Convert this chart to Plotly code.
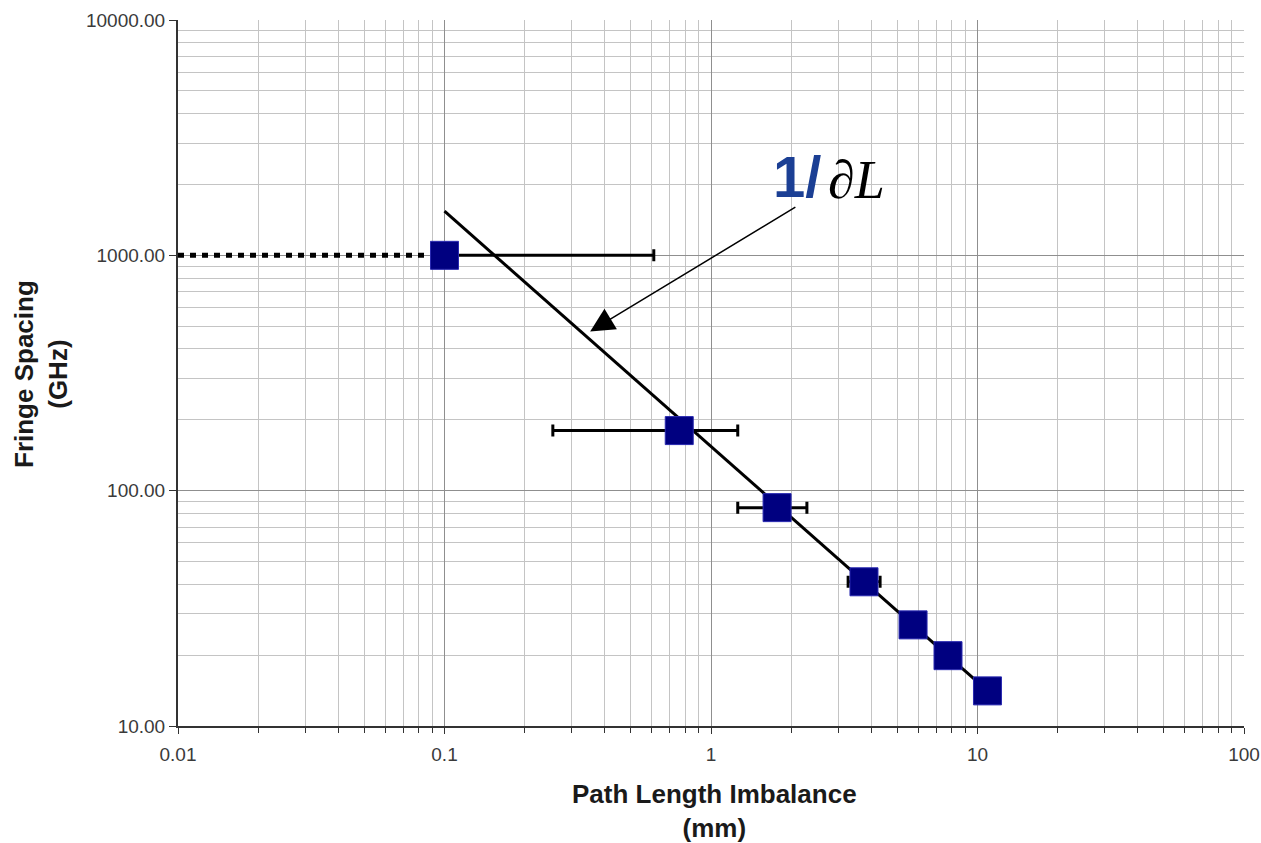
import math
import plotly.graph_objects as go

# ---- data ----
path_mm = [0.1, 0.76, 1.77, 3.75, 5.73, 7.75, 10.9]
fringe_ghz = [1000, 180, 84.7, 41, 26.9, 19.9, 14.1]
err_plus = [0.51, 0.50, 0.52, 0.56, 0, 0, 0]
err_minus = [0.0, 0.505, 0.51, 0.48, 0, 0, 0]

dotted_x = [0.01, 0.1]
dotted_y = [1000, 1000]

fit_x = [0.1, 11.0]
fit_y = [1540, 14.0]

x_tick_vals = [0.01, 0.1, 1, 10, 100]
x_tick_text = ["0.01", "0.1", "1", "10", "100"]
y_tick_vals = [10, 100, 1000, 10000]
y_tick_text = ["10.00", "100.00", "1000.00", "10000.00"]

arrow_tip = (0.352, 475)
arrow_tail = (2.10, 1617)

fig = go.Figure()

fig.add_trace(go.Scatter(x=dotted_x, y=dotted_y, mode="lines",
                         line=dict(color="black", width=5, dash="6px,6px"),
                         hoverinfo="skip", showlegend=False))
fig.add_trace(go.Scatter(x=fit_x, y=fit_y, mode="lines",
                         line=dict(color="black", width=3),
                         showlegend=False))
fig.add_trace(go.Scatter(
    x=path_mm, y=fringe_ghz, mode="markers",
    marker=dict(symbol="square", size=28, color="#000080",
                line=dict(color="#2a2ab0", width=1)),
    error_x=dict(type="data", symmetric=False, array=err_plus,
                 arrayminus=err_minus, color="black", thickness=3, width=6),
    showlegend=False))

minor_x = [m * 10 ** e for e in range(-2, 2) for m in range(2, 10)]
minor_y = [m * 10 ** e for e in range(1, 4) for m in range(2, 10)]

axis_font = dict(family="Liberation Sans, Arial", size=19, color="#3a3a3a")

fig.update_xaxes(type="log", range=[-2, 2], tickmode="array",
                 tickvals=x_tick_vals, ticktext=x_tick_text,
                 showgrid=True, gridcolor="#8f8f8f", gridwidth=1,
                 ticks="outside", ticklen=6, tickcolor="#333",
                 showline=True, linecolor="#333", linewidth=2,
                 zeroline=False, tickfont=axis_font, automargin=False,
                 ticklabelstandoff=4,
                 minor=dict(tickmode="array", tickvals=minor_x, showgrid=True,
                            gridcolor="#c4c4c4", gridwidth=1,
                            ticks="outside", ticklen=5, tickcolor="#333"))
fig.update_yaxes(type="log", range=[1, 4], tickmode="array",
                 tickvals=y_tick_vals, ticktext=y_tick_text,
                 showgrid=True, gridcolor="#8f8f8f", gridwidth=1,
                 ticks="outside", ticklen=7, tickcolor="#333",
                 showline=True, linecolor="#333", linewidth=2,
                 zeroline=False, tickfont=axis_font, automargin=False,
                 minor=dict(tickmode="array", tickvals=minor_y, showgrid=True,
                            gridcolor="#c4c4c4", gridwidth=1))

fig.add_annotation(x=math.log10(arrow_tip[0]), y=math.log10(arrow_tip[1]),
                   ax=math.log10(arrow_tail[0]), ay=math.log10(arrow_tail[1]),
                   xref="x", yref="y", axref="x", ayref="y",
                   text="", showarrow=True, arrowhead=2, arrowsize=3.2,
                   arrowwidth=1.5, arrowcolor="black")


def px_to_paper(px, py):
    return (px - 178) / 1066, (726 - py) / 706


tx, ty = px_to_paper(797, 176)
fig.add_annotation(x=tx, y=ty, xref="paper", yref="paper", showarrow=False,
                   text="<b>1/</b>", xanchor="center", yanchor="middle",
                   font=dict(family="Liberation Sans, Arial", size=58, color="#1b3f94"))
tx, ty = px_to_paper(856, 180)
fig.add_annotation(x=tx, y=ty, xref="paper", yref="paper", showarrow=False,
                   text="<i>∂L</i>", xanchor="center", yanchor="middle",
                   font=dict(family="Liberation Serif, Times New Roman", size=54, color="black"))

tx, ty = px_to_paper(714, 811)
fig.add_annotation(x=tx, y=ty, xref="paper", yref="paper", showarrow=False,
                   text="<b>Path Length Imbalance<br>(mm)</b>", xanchor="center", yanchor="middle",
                   font=dict(family="Liberation Sans, Arial", size=26, color="#1a1a1a"))
tx, ty = px_to_paper(41, 374)
fig.add_annotation(x=tx, y=ty, xref="paper", yref="paper", showarrow=False,
                   text="<b>Fringe Spacing<br>(GHz)</b>", xanchor="center", yanchor="middle",
                   textangle=-90,
                   font=dict(family="Liberation Sans, Arial", size=26, color="#1a1a1a"))

fig.update_layout(width=1261, height=843,
                  margin=dict(l=178, r=17, t=20, b=117),
                  plot_bgcolor="white", paper_bgcolor="white")

fig.write_html("out.html")
